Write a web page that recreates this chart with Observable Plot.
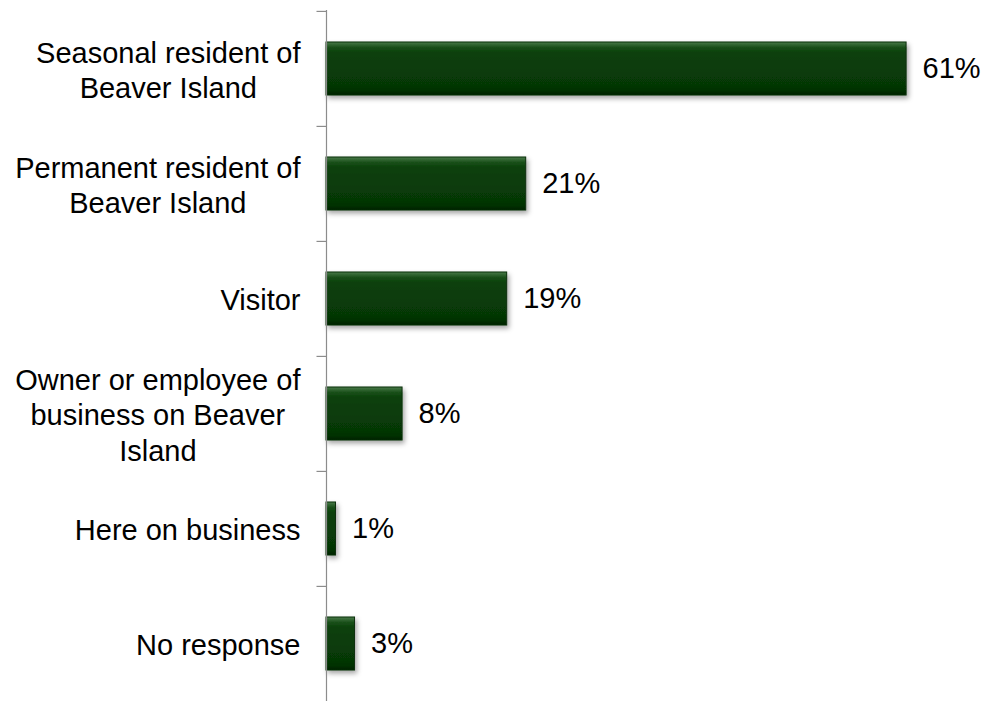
<!DOCTYPE html>
<html>
<head>
<meta charset="utf-8">
<script src="https://cdn.jsdelivr.net/npm/d3@7"></script>
<script src="https://cdn.jsdelivr.net/npm/@observablehq/plot@0.6"></script>
<style>
  html, body { margin: 0; padding: 0; background: #fff; overflow: hidden; }
  svg { display: block; }
</style>
</head>
<body>
<script>
const categories = [
  "Seasonal resident of\nBeaver Island",
  "Permanent resident of\nBeaver Island",
  "Visitor",
  "Owner or employee of\nbusiness on Beaver\nIsland",
  "Here on business",
  "No response"
];
const percents = [61, 21, 19, 8, 1, 3];
const valueLabels = ["61%", "21%", "19%", "8%", "1%", "3%"];

const data = categories.map((c, i) => ({category: c, value: percents[i], label: valueLabels[i]}));

const W = 986, H = 701, mTop = 10, mBottom = 0, mLeft = 326, mRight = 20;
const step = (H - mTop - mBottom) / categories.length;
const FS = 29;
const PAD = 0.54;

const chart = Plot.plot({
  width: W,
  height: H,
  marginTop: mTop,
  marginBottom: mBottom,
  marginLeft: mLeft,
  marginRight: mRight,
  style: {fontFamily: "'Liberation Sans', Arial, sans-serif", fontSize: FS + "px", color: "#000", background: "#fff"},
  x: {domain: [0, 67.3], axis: null},
  y: {domain: categories, paddingInner: PAD, paddingOuter: PAD / 2, axis: null},
  marks: [
    Plot.barX(data, {
      x: "value", y: "category",
      fill: "url(#barGrad)", stroke: "#0b2f0b", strokeWidth: 1,
      render: (index, scales, values, dims, ctx, next) => {
        const g = next(index, scales, values, dims, ctx);
        g.setAttribute("filter", "url(#barShadow)");
        return g;
      }
    }),
    Plot.ruleX([0], {stroke: "#8c8c8c", strokeWidth: 1.2}),
    Plot.ruleY(categories, {y: d => d, x1: -1, x2: 0, dy: -step / 2, stroke: "#8c8c8c", strokeWidth: 1.2}),
    Plot.ruleY(categories.slice(-1), {y: d => d, x1: -1, x2: 0, dy: step / 2, stroke: "#8c8c8c", strokeWidth: 1.2}),
    Plot.text(data, {x: "value", y: "category", text: "label", textAnchor: "start", dx: 16, fontSize: FS, fill: "#000"}),
    Plot.axisY({tickSize: 0, tickPadding: 26, fontSize: FS, lineHeight: 1.22, label: null, fill: "#000",
                marginTop: mTop, marginBottom: mBottom, marginLeft: mLeft})
  ]
});

document.body.append(chart);

// gradient + shadow definitions for the bevelled bars
const ns = "http://www.w3.org/2000/svg";
const defs = document.createElementNS(ns, "defs");
defs.innerHTML = `
  <linearGradient id="barGrad" x1="0" y1="0" x2="0" y2="1">
    <stop offset="0" stop-color="#4a7a4a"/>
    <stop offset="0.1" stop-color="#1a501a"/>
    <stop offset="0.2" stop-color="#0a400a"/>
    <stop offset="0.8" stop-color="#063806"/>
    <stop offset="0.92" stop-color="#053005"/>
    <stop offset="1" stop-color="#022202"/>
  </linearGradient>
  <filter id="barShadow" x="-10%" y="-20%" width="130%" height="160%">
    <feDropShadow dx="2" dy="3" stdDeviation="2.5" flood-color="#000" flood-opacity="0.35"/>
  </filter>`;
chart.insertBefore(defs, chart.firstChild);

// center multi-line category labels within their right-aligned block
chart.querySelectorAll('g[aria-label="y-axis tick label"] text').forEach(t => {
  const spans = t.querySelectorAll("tspan");
  if (spans.length < 2) return;
  let w = 0;
  spans.forEach(s => { w = Math.max(w, s.getComputedTextLength()); });
  t.setAttribute("text-anchor", "middle");
  spans.forEach(s => s.setAttribute("x", -w / 2));
});
</script>
</body>
</html>
